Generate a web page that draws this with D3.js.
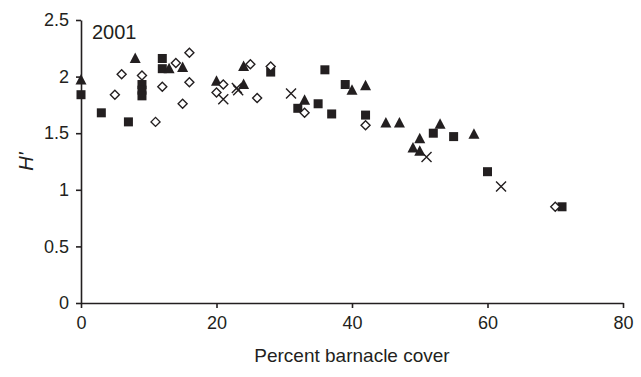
<!DOCTYPE html>
<html>
<head>
<meta charset="utf-8">
<script src="https://cdn.jsdelivr.net/npm/d3@7"></script>
<style>
  body { margin: 0; background: #fff; }
  svg { display: block; font-family: "Liberation Sans", Arial, sans-serif; }
  .axis text { font-size: 18px; fill: #231f20; }
  .axis path, .axis line { stroke: #231f20; stroke-width: 1.6; }
</style>
</head>
<body>
<svg class="chart" width="641" height="377"></svg>
<script>
// percent barnacle cover (x) and diversity H' (y), one pair of arrays per marker type
const squareX = [0, 3, 7, 9, 9, 9, 12, 12, 28, 32, 35, 36, 37, 39, 42, 52, 55, 60, 71];
const squareY = [1.84, 1.68, 1.6, 1.93, 1.88, 1.83, 2.16, 2.07, 2.04, 1.72, 1.76, 2.06, 1.67, 1.93, 1.66, 1.5, 1.47, 1.16, 0.85];

const triangleX = [0, 8, 13, 15, 20, 24, 24, 33, 40, 42, 45, 47, 50, 49, 50, 53, 58];
const triangleY = [1.97, 2.16, 2.07, 2.08, 1.96, 2.09, 1.93, 1.79, 1.88, 1.92, 1.59, 1.59, 1.45, 1.37, 1.34, 1.58, 1.49];

const diamondX = [6, 5, 9, 11, 12, 14, 16, 16, 15, 20, 21, 25, 26, 28, 33, 42, 70];
const diamondY = [2.02, 1.84, 2.01, 1.6, 1.91, 2.12, 2.21, 1.95, 1.76, 1.86, 1.93, 2.11, 1.81, 2.09, 1.68, 1.57, 0.85];

const crossX = [21, 23, 23.2, 31, 51, 62];
const crossY = [1.8, 1.9, 1.88, 1.85, 1.29, 1.03];

const xTicks = [0, 20, 40, 60, 80];
const yTicks = [0, 0.5, 1, 1.5, 2, 2.5];

const ink = "#231f20";
const svg = d3.select(".chart");
const margin = { top: 20, right: 18, bottom: 74, left: 81 };
const width = +svg.attr("width");
const height = +svg.attr("height");

const x = d3.scaleLinear().domain([0, 80]).range([margin.left, width - margin.right]);
const y = d3.scaleLinear().domain([0, 2.5]).range([height - margin.bottom, margin.top]);

// axes
svg.append("g")
  .attr("class", "axis")
  .attr("transform", `translate(0,${y(0)})`)
  .call(d3.axisBottom(x).tickValues(xTicks).tickSize(5).tickSizeOuter(0).tickPadding(6))
  .call((g) => g.selectAll("text").attr("dy", "0.85em"));

svg.append("g")
  .attr("class", "axis")
  .attr("transform", `translate(${x(0)},0)`)
  .call(d3.axisLeft(y).tickValues(yTicks).tickSize(5).tickSizeOuter(0).tickPadding(7).tickFormat(d3.format("")));

// markers
const pts = (xs, ys) => xs.map((v, i) => ({ x: v, y: ys[i] }));

svg.append("g").selectAll("rect")
  .data(pts(squareX, squareY))
  .join("rect")
  .attr("x", (d) => x(d.x) - 4.5)
  .attr("y", (d) => y(d.y) - 4.5)
  .attr("width", 9)
  .attr("height", 9)
  .attr("fill", ink);

svg.append("g").selectAll("path")
  .data(pts(triangleX, triangleY))
  .join("path")
  .attr("transform", (d) => `translate(${x(d.x)},${y(d.y)})`)
  .attr("d", "M0,-6L5.5,4.5L-5.5,4.5Z")
  .attr("fill", ink);

svg.append("g").selectAll("path")
  .data(pts(diamondX, diamondY))
  .join("path")
  .attr("transform", (d) => `translate(${x(d.x)},${y(d.y)})`)
  .attr("d", "M0,-4.5L4.5,0L0,4.5L-4.5,0Z")
  .attr("fill", "#fff")
  .attr("stroke", ink)
  .attr("stroke-width", 1.4);

svg.append("g").selectAll("path")
  .data(pts(crossX, crossY))
  .join("path")
  .attr("transform", (d) => `translate(${x(d.x)},${y(d.y)})`)
  .attr("d", "M-5,-5L5,5M-5,5L5,-5")
  .attr("stroke", ink)
  .attr("stroke-width", 1.4);

// labels
svg.append("text")
  .attr("x", 92)
  .attr("y", 39)
  .attr("font-size", 20)
  .attr("fill", ink)
  .text("2001");

svg.append("text")
  .attr("x", (x(0) + x(80)) / 2)
  .attr("y", 362)
  .attr("text-anchor", "middle")
  .attr("font-size", 19)
  .attr("fill", ink)
  .text("Percent barnacle cover");

svg.append("text")
  .attr("transform", `translate(33,${(y(0) + y(2.5)) / 2}) rotate(-90)`)
  .attr("text-anchor", "middle")
  .attr("font-size", 20)
  .attr("font-style", "italic")
  .attr("fill", ink)
  .text("H'");
</script>
</body>
</html>
